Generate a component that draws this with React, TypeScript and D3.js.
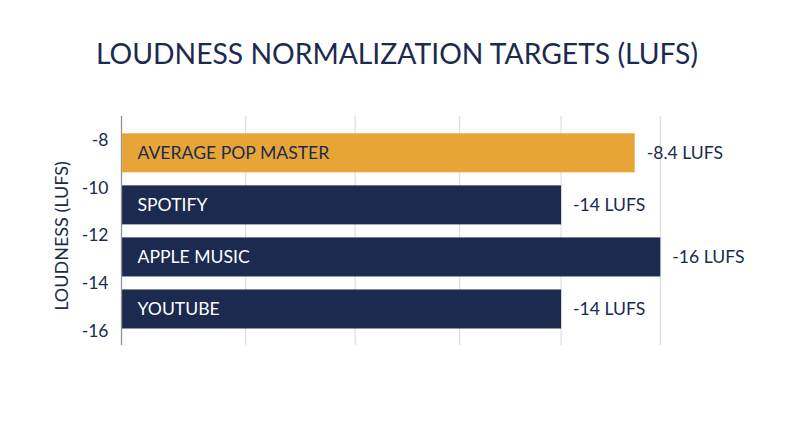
import React, { useEffect, useRef } from 'react';
import * as d3 from 'd3';

const platforms = ['AVERAGE POP MASTER', 'SPOTIFY', 'APPLE MUSIC', 'YOUTUBE'];
const targetLabels = ['-8.4 LUFS', '-14 LUFS', '-16 LUFS', '-14 LUFS'];
// bar lengths as drawn, on the unlabeled horizontal grid (5 grid steps)
const barLengths = [4.74, 4, 5, 4];
const barColors = ['#E8A537', '#1B2A4E', '#1B2A4E', '#1B2A4E'];
const labelColors = ['#1B2A4E', '#ffffff', '#ffffff', '#ffffff'];
const yTicks = [-8, -10, -12, -14, -16];

const WIDTH = 800;
const HEIGHT = 447;
const NAVY = '#1B2A4E';
const FONT = 'Lato, "Noto Sans", sans-serif';

const App: React.FC = () => {
  const svgRef = useRef<SVGSVGElement>(null);

  useEffect(() => {
    if (!svgRef.current) return;
    const svg = d3.select(svgRef.current);
    svg.selectAll('*').remove();

    const plot = { left: 121.5, right: 660.3, top: 116, bottom: 345 };

    // grid spacing narrows slightly to the right in the original
    const x = d3.scalePow().exponent(0.912).domain([0, 5]).range([plot.left, plot.right]);
    const yLin = d3.scaleLinear().domain([-7, -16.6]).range([plot.top, plot.bottom]);
    const yBand = d3.scaleBand<string>()
      .domain(platforms)
      .range([126.8, 335])
      .paddingInner(0.25)
      .paddingOuter(0.125);

    svg.append('rect').attr('width', WIDTH).attr('height', HEIGHT).attr('fill', '#fff');

    // title
    svg.append('text')
      .attr('x', 397)
      .attr('y', 64)
      .attr('text-anchor', 'middle')
      .attr('font-family', FONT)
      .attr('font-size', 28.3)
      .attr('fill', NAVY)
      .text('LOUDNESS NORMALIZATION TARGETS (LUFS)');

    // vertical gridlines
    svg.append('g')
      .selectAll('line')
      .data(d3.range(1, 6))
      .enter()
      .append('line')
      .attr('x1', d => x(d))
      .attr('x2', d => x(d))
      .attr('y1', plot.top)
      .attr('y2', plot.bottom)
      .attr('stroke', '#dedede')
      .attr('stroke-width', 1.2);

    // y axis
    const yAxis = d3.axisLeft(yLin).tickValues(yTicks).tickSize(0).tickPadding(13).tickFormat(d => `${d}`);
    const axisG = svg.append('g')
      .attr('transform', `translate(${plot.left},0)`)
      .call(yAxis);
    axisG.select('.domain').remove();
    axisG.selectAll('text')
      .attr('font-family', FONT)
      .attr('font-size', 17.5)
      .attr('fill', NAVY);

    svg.append('line')
      .attr('x1', plot.left)
      .attr('x2', plot.left)
      .attr('y1', plot.top)
      .attr('y2', plot.bottom)
      .attr('stroke', '#8c919c')
      .attr('stroke-width', 1.3);

    svg.append('text')
      .attr('transform', `translate(68, 236) rotate(-90)`)
      .attr('text-anchor', 'middle')
      .attr('font-family', FONT)
      .attr('font-size', 18)
      .attr('fill', NAVY)
      .text('LOUDNESS (LUFS)');

    // bars
    const rows = platforms.map((p, i) => ({
      name: p,
      len: barLengths[i],
      label: targetLabels[i],
      color: barColors[i],
      textColor: labelColors[i],
    }));

    const g = svg.append('g');
    g.selectAll('rect.bar')
      .data(rows)
      .enter()
      .append('rect')
      .attr('class', 'bar')
      .attr('x', plot.left + 0.6)
      .attr('y', d => yBand(d.name)!)
      .attr('width', d => x(d.len) - plot.left - 0.6)
      .attr('height', yBand.bandwidth())
      .attr('fill', d => d.color);

    g.selectAll('text.name')
      .data(rows)
      .enter()
      .append('text')
      .attr('class', 'name')
      .attr('x', plot.left + 16)
      .attr('y', d => yBand(d.name)! + yBand.bandwidth() / 2)
      .attr('dy', '0.36em')
      .attr('font-family', FONT)
      .attr('font-size', 17.6)
      .attr('fill', d => d.textColor)
      .text(d => d.name);

    g.selectAll('text.value')
      .data(rows)
      .enter()
      .append('text')
      .attr('class', 'value')
      .attr('x', d => x(d.len) + 12)
      .attr('y', d => yBand(d.name)! + yBand.bandwidth() / 2)
      .attr('dy', '0.36em')
      .attr('font-family', FONT)
      .attr('font-size', 17.6)
      .attr('fill', NAVY)
      .text(d => d.label);
  }, []);

  return (
    <div style={{ position: 'absolute', top: 0, left: 0 }}>
      <svg ref={svgRef} width={WIDTH} height={HEIGHT}></svg>
    </div>
  );
};

export default App;
